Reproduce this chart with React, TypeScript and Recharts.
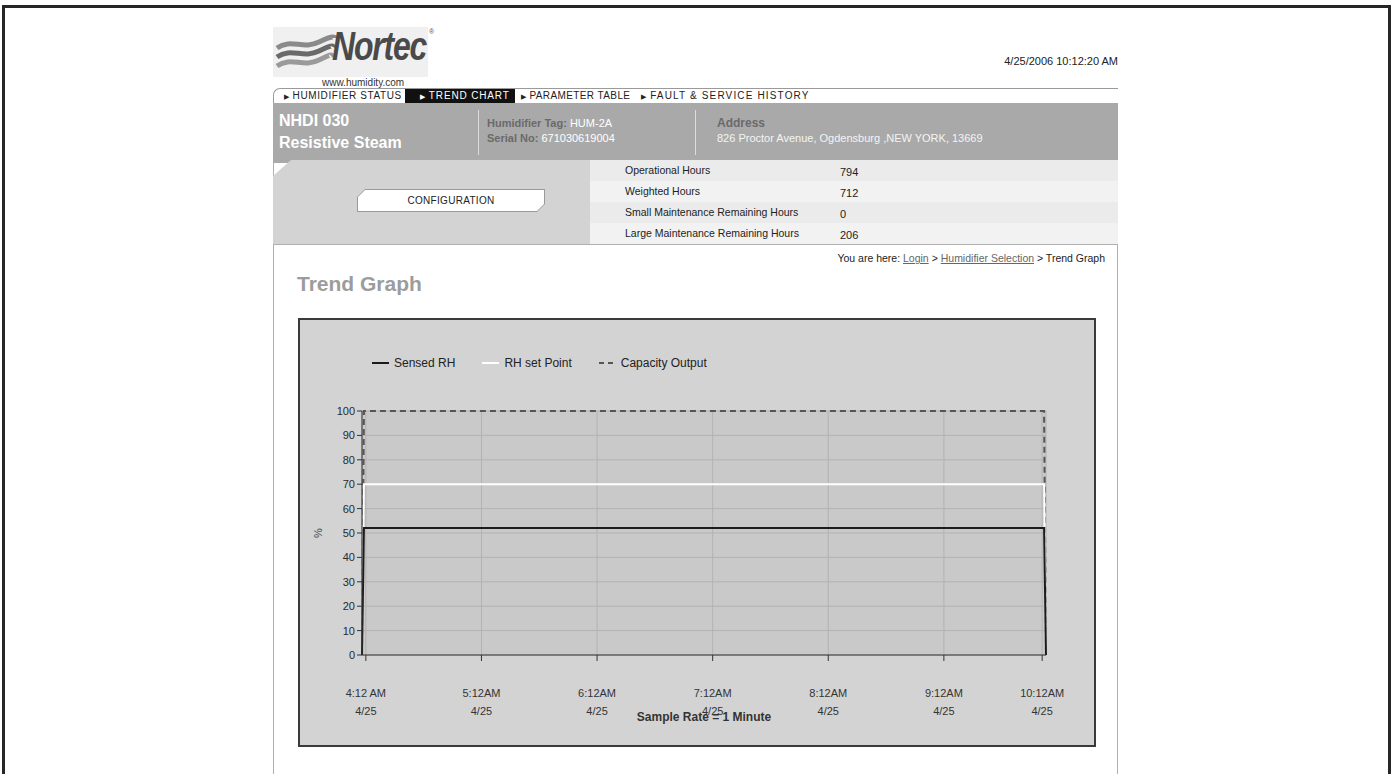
import React from 'react';
import { LineChart, Line, XAxis, YAxis, CartesianGrid, Legend } from 'recharts';

// minutes counted from 4:12 AM, one sample per minute; only the edges change
const sampleMinutes = [-2, -1, 352, 353];
const sensedRH = [0, 52, 52, 0];
const rhSetPoint = [0, 70, 70, 0];
const capacityOutput = [0, 100, 100, 0];

const tickMinutes = [0, 60, 120, 180, 240, 300, 351];
const tickTimes = ['4:12 AM', '5:12AM', '6:12AM', '7:12AM', '8:12AM', '9:12AM', '10:12AM'];
const tickDates = ['4/25', '4/25', '4/25', '4/25', '4/25', '4/25', '4/25'];
const yTicks = [0, 10, 20, 30, 40, 50, 60, 70, 80, 90, 100];

const tabs = ['HUMIDIFIER STATUS', 'TREND CHART', 'PARAMETER TABLE', 'FAULT & SERVICE HISTORY'];
const hourLabels = ['Operational Hours', 'Weighted Hours', 'Small Maintenance Remaining Hours', 'Large Maintenance Remaining Hours'];
const hourValues = ['794', '712', '0', '206'];

const SANS = '"Liberation Sans", Arial, sans-serif';

const data = sampleMinutes.map((t, i) => ({
  t,
  sensed: sensedRH[i],
  setPoint: rhSetPoint[i],
  capacity: capacityOutput[i],
}));

const TimeTick = (props: any) => {
  const { x, y, payload } = props;
  const i = tickMinutes.indexOf(payload.value);
  return (
    <g>
      <text x={x} y={y + 36} textAnchor="middle" fontSize={11} fill="#333" fontFamily={SANS}>{tickTimes[i]}</text>
      <text x={x} y={y + 54} textAnchor="middle" fontSize={11} fill="#333" fontFamily={SANS}>{tickDates[i]}</text>
    </g>
  );
};

const PercentTick = (props: any) => {
  const { x, y, payload } = props;
  return (
    <text x={x} y={y + 4} textAnchor="end" fontSize={11} fill="#2a2a2a" fontFamily={SANS}>{payload.value}</text>
  );
};

const legendItems = [
  { name: 'Sensed RH', color: '#1b1b1b', dash: undefined },
  { name: 'RH set Point', color: '#ffffff', dash: undefined },
  { name: 'Capacity Output', color: '#555', dash: '5 4' },
];

const TrendLegend = () => (
  <div style={{ display: 'flex', fontFamily: SANS, fontSize: 12, color: '#222' }}>
    {legendItems.map((it) => (
      <div key={it.name} style={{ display: 'flex', alignItems: 'center', marginRight: 27 }}>
        <svg width={17} height={10} style={{ marginRight: 5 }}>
          <line x1={0} y1={5} x2={17} y2={5} stroke={it.color} strokeWidth={2} strokeDasharray={it.dash} />
        </svg>
        <span>{it.name}</span>
      </div>
    ))}
  </div>
);

function TrendChart() {
  return (
    <LineChart width={794} height={425} data={data} margin={{ top: 91, right: 48, left: 18, bottom: 20 }}>
      <CartesianGrid fill="#c9c9c9" stroke="#b3b3b3" strokeWidth={1} />
      <XAxis
        dataKey="t"
        type="number"
        domain={[-2, 353]}
        ticks={tickMinutes}
        tick={<TimeTick />}
        tickSize={6}
        tickMargin={0}
        height={70}
        stroke="#333"
        interval={0}
        label={{
          content: (p: any) => (
            <text x={p.viewBox.x + p.viewBox.width / 2} y={p.viewBox.y + 66} textAnchor="middle" fontSize={12} fontWeight="bold" fill="#333" fontFamily={SANS}>
              Sample Rate = 1 Minute
            </text>
          ),
        }}
      />
      <YAxis
        domain={[0, 100]}
        ticks={yTicks}
        width={44}
        tickSize={5}
        tickMargin={2}
        stroke="#333"
        tick={<PercentTick />}
        interval={0}
        label={{
          content: (p: any) => {
            const cx = p.viewBox.x + 4;
            const cy = p.viewBox.y + p.viewBox.height / 2;
            return (
              <text x={cx} y={cy} transform={`rotate(-90 ${cx} ${cy})`} textAnchor="middle" fontSize={11} fill="#444" fontFamily={SANS}>%</text>
            );
          },
        }}
      />
      <Legend verticalAlign="middle" layout="horizontal" content={<TrendLegend />} wrapperStyle={{ top: 36, left: 72, width: 500 }} />
      <Line dataKey="capacity" name="Capacity Output" stroke="#555" strokeWidth={2} strokeDasharray="6 4" dot={false} isAnimationActive={false} type="linear" />
      <Line dataKey="setPoint" name="RH set Point" stroke="#ffffff" strokeWidth={2} dot={false} isAnimationActive={false} type="linear" />
      <Line dataKey="sensed" name="Sensed RH" stroke="#1b1b1b" strokeWidth={2} dot={false} isAnimationActive={false} type="linear" />
    </LineChart>
  );
}

const abs = (l: number, t: number, extra: React.CSSProperties = {}): React.CSSProperties => ({ position: 'absolute', left: l, top: t, ...extra });

export default function App() {
  const tabLeft = [284, 405, 521, 641];
  const tabSpacing = [0.6, 0.85, 0.4, 1.15];
  return (
    <div style={{ position: 'absolute', left: 0, top: 0, width: 1393, height: 774, overflow: 'hidden', background: '#fff', fontFamily: SANS }}>
      {/* outer frame */}
      <div style={abs(2, 5, { width: 1389, height: 820, border: '3px solid #262626', boxSizing: 'border-box' })} />

      {/* logo */}
      <div style={abs(273, 27, { width: 155, height: 50, background: '#f0f0f0' })} />
      <svg style={abs(275, 34)} width={62} height={40}>
        <path d="M2 14 C16 4, 28 16, 44 8 S60 4, 60 4" stroke="#8a8a8a" strokeWidth={5} fill="none" />
        <path d="M2 23 C16 13, 28 25, 44 17 S58 13, 58 13" stroke="#6a6a6a" strokeWidth={5} fill="none" />
        <path d="M2 32 C16 22, 28 34, 44 26 S56 22, 56 22" stroke="#9a9a9a" strokeWidth={5} fill="none" />
      </svg>
      <div style={abs(332, 24, { fontSize: 40, fontWeight: 'bold', fontStyle: 'italic', color: '#4a4a4a', letterSpacing: -1.5, transform: 'scaleX(0.8)', transformOrigin: 'left top' })}>Nortec</div>
      <div style={abs(429, 28, { fontSize: 7, color: '#555' })}>®</div>
      <div style={abs(322, 77, { fontSize: 10, color: '#333' })}>www.humidity.com</div>

      <div style={abs(1118 - 300, 55, { width: 300, textAlign: 'right', fontSize: 11, color: '#222' })}>4/25/2006 10:12:20 AM</div>

      {/* page side borders */}
      <div style={abs(273, 160, { width: 1, height: 620, background: '#b0b0b0' })} />
      <div style={abs(1117, 160, { width: 1, height: 620, background: '#b0b0b0' })} />

      {/* tab bar */}
      <div style={abs(273, 88, { width: 845, height: 16, borderTop: '1px solid #9a9a9a', borderLeft: '1px solid #9a9a9a', borderTopLeftRadius: 7, boxSizing: 'border-box' })} />
      {tabs.map((t, i) => (
        <div
          key={t}
          style={abs(tabLeft[i], 89, {
            height: 14,
            lineHeight: '14px',
            width: i === 1 ? 110 : undefined,
            paddingLeft: i === 1 ? 15 : 0,
            boxSizing: 'border-box',
            background: i === 1 ? '#111' : 'transparent',
            color: i === 1 ? '#fff' : '#222',
            fontSize: 10,
            letterSpacing: tabSpacing[i],
            whiteSpace: 'nowrap',
          })}
        >
          <span style={{ fontSize: 7, marginRight: 3 }}>▶</span>
          {t}
        </div>
      ))}

      {/* model header */}
      <div style={abs(273, 103, { width: 845, height: 60, background: '#a9a9a9' })} />
      <div style={abs(279, 110, { color: '#fff', fontWeight: 'bold', fontSize: 16, lineHeight: '22px' })}>
        NHDI 030<br />Resistive Steam
      </div>
      <div style={abs(478, 110, { width: 1, height: 45, background: '#dcdcdc' })} />
      <div style={abs(487, 116, { fontSize: 11, lineHeight: '15px', color: '#fff' })}>
        <span style={{ color: '#6a6a6a', fontWeight: 'bold' }}>Humidifier Tag: </span>HUM-2A<br />
        <span style={{ color: '#6a6a6a', fontWeight: 'bold' }}>Serial No: </span>671030619004
      </div>
      <div style={abs(695, 110, { width: 1, height: 45, background: '#dcdcdc' })} />
      <div style={abs(717, 116, { fontSize: 11, lineHeight: '15px', color: '#f4f4f4' })}>
        <span style={{ color: '#6a6a6a', fontWeight: 'bold', fontSize: 12 }}>Address</span><br />
        826 Proctor Avenue, Ogdensburg ,NEW YORK, 13669
      </div>

      {/* configuration panel */}
      <div style={abs(273, 160, { width: 317, height: 84, background: '#d3d3d3', clipPath: 'polygon(18px 0, 100% 0, 100% 100%, 0 100%, 0 16px)' })} />
      <div
        style={abs(357, 189, {
          width: 188,
          height: 23,
          background: '#9a9a9a',
          clipPath: 'polygon(8px 0, 100% 0, 100% calc(100% - 8px), calc(100% - 8px) 100%, 0 100%, 0 8px)',
        })}
      />
      <div
        style={abs(358, 190, {
          width: 186,
          height: 21,
          background: '#fff',
          clipPath: 'polygon(7px 0, 100% 0, 100% calc(100% - 7px), calc(100% - 7px) 100%, 0 100%, 0 7px)',
          fontSize: 10,
          lineHeight: '21px',
          textAlign: 'center',
          color: '#222',
          letterSpacing: 0.3,
        })}
      >
        CONFIGURATION
      </div>

      {/* hours table */}
      {hourLabels.map((l, i) => (
        <div key={l} style={abs(590, 160 + i * 21, { width: 528, height: 21, background: i % 2 === 0 ? '#ebebeb' : '#f2f2f2' })}>
          <div style={abs(35, 4, { fontSize: 10.5, color: '#222' })}>{l}</div>
          <div style={abs(250, 6, { fontSize: 11, color: '#222' })}>{hourValues[i]}</div>
        </div>
      ))}
      <div style={abs(273, 244, { width: 845, height: 1, background: '#b0b0b0' })} />

      {/* breadcrumb + title */}
      <div style={abs(1105 - 400, 252, { width: 400, textAlign: 'right', fontSize: 10.5, color: '#222' })}>
        You are here: <span style={{ color: '#666', textDecoration: 'underline' }}>Login</span> &gt;{' '}
        <span style={{ color: '#666', textDecoration: 'underline' }}>Humidifier Selection</span> &gt; Trend Graph
      </div>
      <div style={abs(297, 272, { fontSize: 21, fontWeight: 'bold', color: '#9c9c9c' })}>Trend Graph</div>

      {/* chart box */}
      <div style={abs(298, 318, { width: 798, height: 429, background: '#d3d3d3', border: '2px solid #3a3a3a', boxSizing: 'border-box' })}>
        <TrendChart />
      </div>
    </div>
  );
}
